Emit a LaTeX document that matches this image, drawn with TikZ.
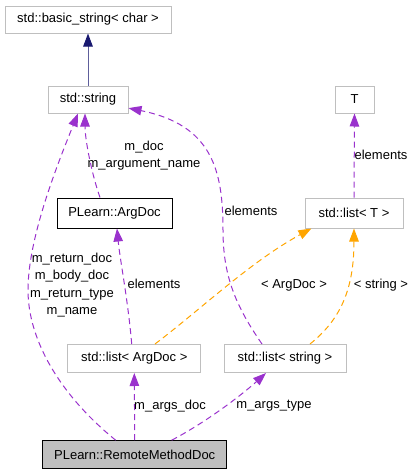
\documentclass[tikz,border=0pt]{standalone}
\usepackage{fontspec}
\setmainfont{Liberation Sans}
\usepackage{tikz}
\usetikzlibrary{arrows.meta}

\definecolor{memberColor}{HTML}{9A32CD}
\definecolor{templateColor}{HTML}{FFA500}
\definecolor{inheritColor}{HTML}{191970}
\definecolor{boxGray}{HTML}{BFBFBF}

\begin{document}
\begin{tikzpicture}[%%
  x=1pt,y=-1pt,%%
  font=\fontsize{13}{17.3}\selectfont,%%
  boxStyle/.style={draw=boxGray,line width=1pt,inner sep=0pt},%%
  classStyle/.style={boxStyle,draw=black},%%
  mainStyle/.style={classStyle,fill=boxGray},%%
  tipStyle/.style={-{Triangle[length=13pt,width=9.5pt]}},%%
  memberStyle/.style={tipStyle,memberColor,line width=1pt,dash pattern=on 6pt off 4pt},%%
  templateStyle/.style={tipStyle,templateColor,line width=1pt,dash pattern=on 6pt off 4pt},%%
  inheritStyle/.style={-{Triangle[length=13pt,width=9.5pt,color=inheritColor]},inheritColor!70,line width=1pt},%%
  labelStyle/.style={inner sep=0pt,align=center}%%
]
%%
\useasboundingbox (0,0) rectangle (416,475);
%%
\pgfmathsetmacro{\hsmall}{27}  %% height of the upper boxes
\pgfmathsetmacro{\hmid}{30}    %% height of the middle boxes
\pgfmathsetmacro{\hlow}{28}    %% height of the lower boxes
%%
%% The string classes.
\node[boxStyle,minimum width=166,minimum height=\hsmall] (basicString) at (88,19.5) {std::basic\_string< char >};
\node[boxStyle,minimum width=80,minimum height=\hsmall] (stdString) at (88,99.5) {std::string};
\node[boxStyle,minimum width=39,minimum height=\hsmall] (typeT) at (354.5,99.5) {T};
%% The middle row.
\node[classStyle,minimum width=115,minimum height=\hmid] (argDoc) at (114.5,213) {PLearn::ArgDoc};
\node[boxStyle,minimum width=98,minimum height=\hmid] (listT) at (354,213) {std::list< T >};
%% The list classes.
\node[boxStyle,minimum width=133,minimum height=\hlow] (listArgDoc) at (134.3,358.5) {std::list< ArgDoc >};
\node[boxStyle,minimum width=122,minimum height=\hlow] (listString) at (285,358.5) {std::list< string >};
%% The documented class.
\node[mainStyle,minimum width=184,minimum height=\hlow] (remoteDoc) at (134.7,454.7) {PLearn::RemoteMethodDoc};
%%
%% Inheritance.
\draw[inheritStyle] (stdString.north) -- (basicString.south);
%%
%% Members pointing to std::string.
\draw[memberStyle] ([xshift=-14.5pt]argDoc.north) .. controls (92,175) and (85,140) .. ([xshift=-3pt]stdString.south);
\node[labelStyle] (docLabel) at (144,155.5) {m\_doc\\m\_argument\_name};
\draw[memberStyle] ([xshift=-19pt]remoteDoc.north) .. controls (60,395) and (28,340) .. (28,290)
  .. controls (28,240) and (55,170) .. ([xshift=-10pt]stdString.south);
\node[labelStyle] (nameLabel) at (72,285) {m\_return\_doc\\m\_body\_doc\\m\_return\_type\\m\_name};
\draw[memberStyle] ([xshift=-23pt]listString.north) .. controls (235,305) and (223,275) .. (223,230)
  .. controls (223,170) and (212,125) .. (stdString.-12);
\node[labelStyle] (stringElements) at (251,210.7) {elements};
%%
%% Elements of the lists.
\draw[memberStyle] (listT.north) -- (typeT.south);
\node[labelStyle] (typeElements) at (381,155) {elements};
\draw[memberStyle] ([xshift=-2.6pt]listArgDoc.north) .. controls (128,300) and (120,260) .. ([xshift=2.5pt]argDoc.south);
\node[labelStyle] (argElements) at (154,284.3) {elements};
%%
%% Template instances.
\draw[templateStyle] ([xshift=20.7pt]listArgDoc.north) .. controls (200,310) and (250,262) .. (listT.-160);
\node[labelStyle] (argTemplate) at (294,285) {< ArgDoc >};
\draw[templateStyle] ([xshift=25pt]listString.north) .. controls (340,320) and (354,290) .. (listT.south);
\node[labelStyle] (stringTemplate) at (381,285) {< string >};
%%
%% Members of the documented class.
\draw[memberStyle] (remoteDoc.north) -- (listArgDoc.south);
\node[labelStyle] (argsDoc) at (170,405.7) {m\_args\_doc};
\draw[memberStyle] ([xshift=37pt]remoteDoc.north) .. controls (210,420) and (245,392) .. ([xshift=-19pt]listString.south);
\node[labelStyle] (argsType) at (274,405.7) {m\_args\_type};
\end{tikzpicture}
\end{document}
